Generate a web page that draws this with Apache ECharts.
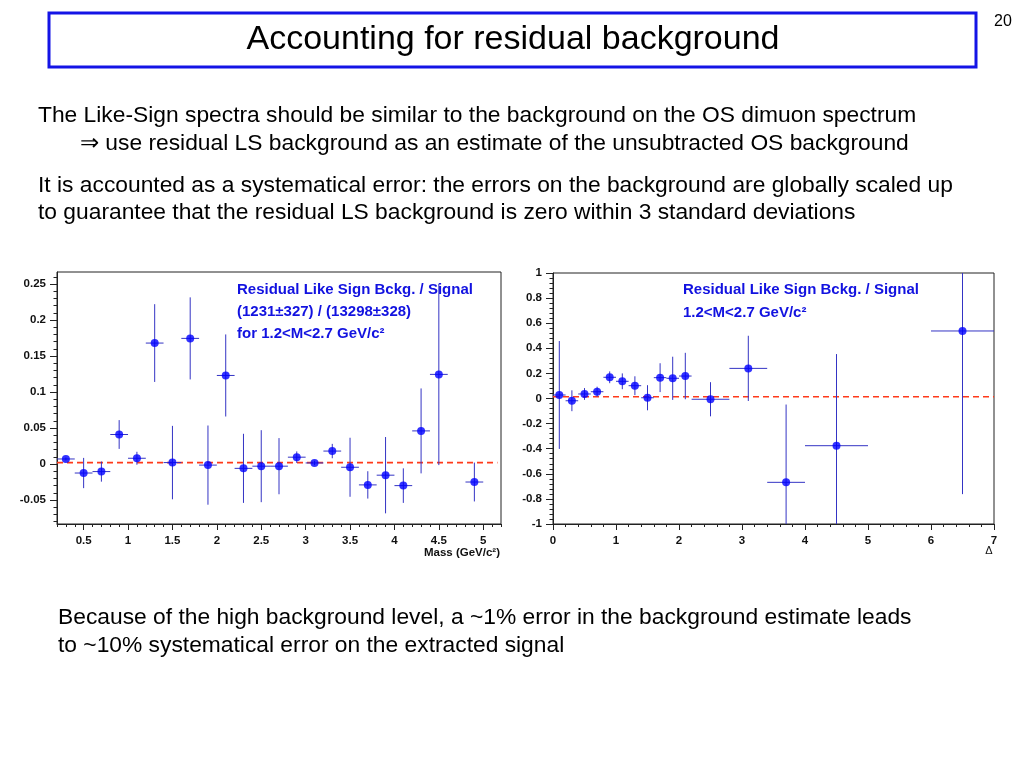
<!DOCTYPE html>
<html>
<head>
<meta charset="utf-8">
<script src="https://cdn.jsdelivr.net/npm/echarts@6/dist/echarts.min.js"></script>
<style>
html,body{margin:0;padding:0;background:#fff;}
#c{width:1024px;height:768px;}
</style>
</head>
<body>
<div id="c"></div>
<script>
// ---------- data: left panel (mass) ----------
const leftX    = [0.3, 0.5, 0.7, 0.9, 1.1, 1.3, 1.5, 1.7, 1.9, 2.1, 2.3, 2.5, 2.7, 2.9, 3.1, 3.3, 3.5, 3.7, 3.9, 4.1, 4.3, 4.5, 4.9];
const leftY    = [0.007, -0.0125, -0.0105, 0.041, 0.008, 0.168, 0.002, 0.1745, -0.0015, 0.123, -0.006, -0.003, -0.003, 0.0095, 0.0015, 0.018, -0.0045, -0.029, -0.0155, -0.030, 0.046, 0.1245, -0.025];
const leftYErr = [0.002, 0.021, 0.014, 0.020, 0.009, 0.054, 0.051, 0.057, 0.055, 0.057, 0.048, 0.050, 0.039, 0.008, 0.003, 0.010, 0.041, 0.019, 0.053, 0.024, 0.059, 0.126, 0.027];
const leftXErr = [0.1, 0.1, 0.1, 0.1, 0.1, 0.1, 0.1, 0.1, 0.1, 0.1, 0.1, 0.1, 0.1, 0.1, 0.1, 0.1, 0.1, 0.1, 0.1, 0.1, 0.1, 0.1, 0.1];
const leftFit  = 0.002;
const leftXRange = [0.2, 5.2];
const leftYRange = [-0.0833, 0.2667];
const leftXTicks = [0.5, 1, 1.5, 2, 2.5, 3, 3.5, 4, 4.5, 5];
const leftYTicks = [-0.05, 0, 0.05, 0.1, 0.15, 0.2, 0.25];

// ---------- data: right panel (Delta) ----------
const rightX    = [0.1, 0.3, 0.5, 0.7, 0.9, 1.1, 1.3, 1.5, 1.7, 1.9, 2.1, 2.5, 3.1, 3.7, 4.5, 6.5];
const rightY    = [0.028, -0.018, 0.036, 0.054, 0.169, 0.137, 0.102, 0.006, 0.166, 0.161, 0.179, -0.006, 0.240, -0.668, -0.376, 0.538];
const rightYErr = [0.43, 0.083, 0.047, 0.040, 0.047, 0.063, 0.075, 0.100, 0.115, 0.172, 0.185, 0.136, 0.260, 0.620, 0.730, 1.30];
const rightXErr = [0.1, 0.1, 0.1, 0.1, 0.1, 0.1, 0.1, 0.1, 0.1, 0.1, 0.1, 0.3, 0.3, 0.3, 0.5, 0.5];
const rightFit  = 0.014;
const rightXRange = [0, 7];
const rightYRange = [-1, 1];

// minor tick helper (axis decoration only)
function steps(a, b, s) { const r = []; const n = Math.round((b - a) / s); for (let i = 0; i <= n; i++) r.push(+(a + i * s).toFixed(4)); return r; }
const leftXMinor = steps(0.2, 5.2, 0.1);
const leftYMinor = steps(-0.08, 0.26, 0.01);

const FONT = '"Liberation Sans", Arial, Helvetica, sans-serif';
const ERR_COLOR = '#3434c4';
const PT_COLOR = '#0000ff';
const FIT_COLOR = '#ff3a1a';
const lblStyle = { color: '#111', fontFamily: FONT, fontWeight: 'bold', fontSize: 11.5 };
const BODY = '22.8px ' + FONT;
const NOTE = 'bold 15px ' + FONT;

function pack(xs, ys, exs, eys) { return xs.map((x, i) => [x, ys[i], exs[i], eys[i]]); }

function errRender(params, api) {
  const x = api.value(0), y = api.value(1), ex = api.value(2), ey = api.value(3);
  const l = api.coord([x - ex, y]), r = api.coord([x + ex, y]);
  const t = api.coord([x, y + ey]), b = api.coord([x, y - ey]);
  const cs = params.coordSys;
  const clip = (v, lo, hi) => Math.max(lo, Math.min(hi, v));
  const top = cs.y, bot = cs.y + cs.height;
  return {
    type: 'group',
    children: [
      { type: 'line', shape: { x1: l[0], y1: l[1], x2: r[0], y2: r[1] }, style: { stroke: ERR_COLOR, lineWidth: 1 } },
      { type: 'line', shape: { x1: t[0], y1: clip(t[1], top, bot), x2: b[0], y2: clip(b[1], top, bot) }, style: { stroke: ERR_COLOR, lineWidth: 1 } }
    ]
  };
}

const chart = echarts.init(document.getElementById('c'), null, { renderer: 'canvas' });

const option = {
  backgroundColor: '#fff',
  animation: false,
  grid: [
    { left: 57, top: 272, width: 444, height: 252, show: true, borderColor: '#222', borderWidth: 1, backgroundColor: 'transparent' },
    { left: 553, top: 273, width: 441, height: 251, show: true, borderColor: '#222', borderWidth: 1, backgroundColor: 'transparent' }
  ],
  xAxis: [
    { gridIndex: 0, type: 'value', position: 'bottom', min: leftXRange[0], max: leftXRange[1],
      axisLine: { show: true, onZero: false, lineStyle: { color: '#222' } },
      axisTick: { show: true, length: 6, customValues: leftXTicks, lineStyle: { color: '#222' } },
      axisLabel: { customValues: leftXTicks, margin: 11, ...lblStyle },
      splitLine: { show: false } },
    { gridIndex: 0, type: 'value', position: 'bottom', min: leftXRange[0], max: leftXRange[1],
      axisLine: { show: false, onZero: false },
      axisTick: { show: true, length: 3, customValues: leftXMinor, lineStyle: { color: '#222' } },
      axisLabel: { show: false }, splitLine: { show: false } },
    { gridIndex: 1, type: 'value', position: 'bottom', min: rightXRange[0], max: rightXRange[1], interval: 1,
      axisLine: { show: true, onZero: false, lineStyle: { color: '#222' } },
      axisTick: { show: true, length: 6, lineStyle: { color: '#222' } },
      minorTick: { show: true, splitNumber: 5, length: 3, lineStyle: { color: '#222' } },
      axisLabel: { margin: 11, showMinLabel: true, showMaxLabel: true, ...lblStyle },
      splitLine: { show: false } }
  ],
  yAxis: [
    { gridIndex: 0, type: 'value', position: 'left', min: leftYRange[0], max: leftYRange[1],
      axisLine: { show: true, onZero: false, lineStyle: { color: '#222' } },
      axisTick: { show: true, length: 7, customValues: leftYTicks, lineStyle: { color: '#222' } },
      axisLabel: { customValues: leftYTicks, margin: 11, ...lblStyle },
      splitLine: { show: false } },
    { gridIndex: 0, type: 'value', position: 'left', min: leftYRange[0], max: leftYRange[1],
      axisLine: { show: false, onZero: false },
      axisTick: { show: true, length: 3.5, customValues: leftYMinor, lineStyle: { color: '#222' } },
      axisLabel: { show: false }, splitLine: { show: false } },
    { gridIndex: 1, type: 'value', position: 'left', min: rightYRange[0], max: rightYRange[1], interval: 0.2,
      axisLine: { show: true, onZero: false, lineStyle: { color: '#222' } },
      axisTick: { show: true, length: 7, lineStyle: { color: '#222' } },
      minorTick: { show: true, splitNumber: 5, length: 3.5, lineStyle: { color: '#222' } },
      axisLabel: { margin: 11, showMinLabel: true, showMaxLabel: true, ...lblStyle },
      splitLine: { show: false } }
  ],
  series: [
    { type: 'line', xAxisIndex: 0, yAxisIndex: 0, data: [[leftXRange[0], leftFit], [leftXRange[1] - 0.04, leftFit]],
      symbol: 'none', lineStyle: { color: FIT_COLOR, width: 1.6, type: [6, 4] }, z: 3 },
    { type: 'custom', xAxisIndex: 0, yAxisIndex: 0, renderItem: errRender, clip: true,
      data: pack(leftX, leftY, leftXErr, leftYErr), z: 4 },
    { type: 'scatter', xAxisIndex: 0, yAxisIndex: 0, data: leftX.map((x, i) => [x, leftY[i]]),
      symbol: 'circle', symbolSize: 8, itemStyle: { color: PT_COLOR }, z: 5 },

    { type: 'line', xAxisIndex: 2, yAxisIndex: 2, data: [[rightXRange[0], rightFit], [rightXRange[1], rightFit]],
      symbol: 'none', lineStyle: { color: FIT_COLOR, width: 1.6, type: [6, 4] }, z: 3 },
    { type: 'custom', xAxisIndex: 2, yAxisIndex: 2, renderItem: errRender, clip: true,
      data: pack(rightX, rightY, rightXErr, rightYErr), z: 4 },
    { type: 'scatter', xAxisIndex: 2, yAxisIndex: 2, data: rightX.map((x, i) => [x, rightY[i]]),
      symbol: 'circle', symbolSize: 8, itemStyle: { color: PT_COLOR }, z: 5 }
  ],
  graphic: [
    { type: 'rect', shape: { x: 49, y: 13, width: 927, height: 54 }, style: { fill: '#fff', stroke: '#1414e6', lineWidth: 3 } },
    { type: 'text', x: 513, y: 40, style: { text: 'Accounting for residual background', font: '34px ' + FONT, fill: '#000', textAlign: 'center', textVerticalAlign: 'middle' } },
    { type: 'text', x: 1003, y: 22, style: { text: '20', font: '16px ' + FONT, fill: '#000', textAlign: 'center', textVerticalAlign: 'middle' } },

    { type: 'text', x: 38, y: 116, style: { text: 'The Like-Sign spectra should be similar to the background on the OS dimuon spectrum', font: BODY, fill: '#000', textVerticalAlign: 'middle' } },
    { type: 'text', x: 80, y: 144, style: { text: '\u21D2 use residual LS background as an estimate of the unsubtracted OS background', font: BODY, fill: '#000', textVerticalAlign: 'middle' } },
    { type: 'text', x: 38, y: 186, style: { text: 'It is accounted as a systematical error: the errors on the background are globally scaled up', font: BODY, fill: '#000', textVerticalAlign: 'middle' } },
    { type: 'text', x: 38, y: 213, style: { text: 'to guarantee that the residual LS background is zero within 3 standard deviations', font: BODY, fill: '#000', textVerticalAlign: 'middle' } },
    { type: 'text', x: 58, y: 618, style: { text: 'Because of the high background level, a ~1% error in the background estimate leads', font: BODY, fill: '#000', textVerticalAlign: 'middle' } },
    { type: 'text', x: 58, y: 646, style: { text: 'to ~10% systematical error on the extracted signal', font: BODY, fill: '#000', textVerticalAlign: 'middle' } },

    { type: 'text', x: 237, y: 290, style: { text: 'Residual Like Sign Bckg. / Signal', font: NOTE, fill: '#1212e0', textVerticalAlign: 'middle' } },
    { type: 'text', x: 237, y: 312, style: { text: '(1231\u00B1327) / (13298\u00B1328)', font: NOTE, fill: '#1212e0', textVerticalAlign: 'middle' } },
    { type: 'text', x: 237, y: 334, style: { text: 'for 1.2<M<2.7 GeV/c\u00B2', font: NOTE, fill: '#1212e0', textVerticalAlign: 'middle' } },
    { type: 'text', x: 683, y: 290, style: { text: 'Residual Like Sign Bckg. / Signal', font: NOTE, fill: '#1212e0', textVerticalAlign: 'middle' } },
    { type: 'text', x: 683, y: 313, style: { text: '1.2<M<2.7 GeV/c\u00B2', font: NOTE, fill: '#1212e0', textVerticalAlign: 'middle' } },

    { type: 'text', x: 500, y: 553, style: { text: 'Mass (GeV/c\u00B2)', font: 'bold 11.5px ' + FONT, fill: '#111', textAlign: 'right', textVerticalAlign: 'middle' } },
    { type: 'text', x: 989, y: 551, style: { text: '\u0394', font: '11px ' + FONT, fill: '#111', textAlign: 'center', textVerticalAlign: 'middle' } }
  ]
};
chart.setOption(option);
</script>
</body>
</html>
